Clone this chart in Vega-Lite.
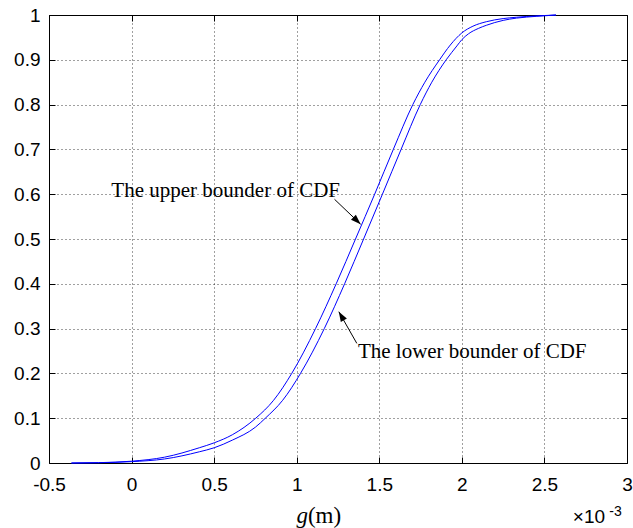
{
  "$schema": "https://vega.github.io/schema/vega-lite/v6.json",
  "width": 578,
  "height": 448,
  "autosize": "none",
  "padding": {"left": 49, "top": 15, "right": 6, "bottom": 65},
  "background": "white",
  "config": {
    "view": {"stroke": "black", "strokeWidth": 1},
    "axis": {
      "labelFont": "Liberation Sans",
      "labelFontSize": 19,
      "labelColor": "black",
      "tickColor": "black",
      "tickSize": -6,
      "domain": false,
      "gridColor": "black",
      "gridOpacity": 0.75,
      "gridDash": [1, 3],
      "gridWidth": 1,
      "title": null
    }
  },
  "datasets": {
    "curves": [
      {"series": "upper", "x": -0.364, "y": 0},
      {"series": "upper", "x": -0.2, "y": 0.0008},
      {"series": "upper", "x": 0.0, "y": 0.004},
      {"series": "upper", "x": 0.2, "y": 0.013},
      {"series": "upper", "x": 0.41, "y": 0.034},
      {"series": "upper", "x": 0.5, "y": 0.045},
      {"series": "upper", "x": 0.61, "y": 0.063},
      {"series": "upper", "x": 0.752, "y": 0.1},
      {"series": "upper", "x": 0.86, "y": 0.14},
      {"series": "upper", "x": 0.97, "y": 0.2},
      {"series": "upper", "x": 1.114, "y": 0.3},
      {"series": "upper", "x": 1.239, "y": 0.4},
      {"series": "upper", "x": 1.356, "y": 0.5},
      {"series": "upper", "x": 1.472, "y": 0.6},
      {"series": "upper", "x": 1.585, "y": 0.7},
      {"series": "upper", "x": 1.703, "y": 0.8},
      {"series": "upper", "x": 1.776, "y": 0.85},
      {"series": "upper", "x": 1.865, "y": 0.9},
      {"series": "upper", "x": 1.93, "y": 0.933},
      {"series": "upper", "x": 2.0, "y": 0.96},
      {"series": "upper", "x": 2.067, "y": 0.975},
      {"series": "upper", "x": 2.148, "y": 0.985},
      {"series": "upper", "x": 2.25, "y": 0.992},
      {"series": "upper", "x": 2.33, "y": 0.995},
      {"series": "upper", "x": 2.45, "y": 0.998},
      {"series": "upper", "x": 2.57, "y": 1.0},
      {"series": "lower", "x": -0.364, "y": 0},
      {"series": "lower", "x": -0.2, "y": 0.0006},
      {"series": "lower", "x": 0.0, "y": 0.003},
      {"series": "lower", "x": 0.2, "y": 0.009},
      {"series": "lower", "x": 0.41, "y": 0.025},
      {"series": "lower", "x": 0.5, "y": 0.034},
      {"series": "lower", "x": 0.61, "y": 0.051},
      {"series": "lower", "x": 0.75, "y": 0.08},
      {"series": "lower", "x": 0.81, "y": 0.1},
      {"series": "lower", "x": 0.915, "y": 0.14},
      {"series": "lower", "x": 1.023, "y": 0.2},
      {"series": "lower", "x": 1.167, "y": 0.3},
      {"series": "lower", "x": 1.29, "y": 0.4},
      {"series": "lower", "x": 1.405, "y": 0.5},
      {"series": "lower", "x": 1.519, "y": 0.6},
      {"series": "lower", "x": 1.632, "y": 0.7},
      {"series": "lower", "x": 1.748, "y": 0.8},
      {"series": "lower", "x": 1.818, "y": 0.85},
      {"series": "lower", "x": 1.905, "y": 0.9},
      {"series": "lower", "x": 1.97, "y": 0.931},
      {"series": "lower", "x": 2.0, "y": 0.945},
      {"series": "lower", "x": 2.04, "y": 0.958},
      {"series": "lower", "x": 2.1, "y": 0.97},
      {"series": "lower", "x": 2.148, "y": 0.977},
      {"series": "lower", "x": 2.25, "y": 0.988},
      {"series": "lower", "x": 2.33, "y": 0.993},
      {"series": "lower", "x": 2.45, "y": 0.997},
      {"series": "lower", "x": 2.57, "y": 1.0}
    ],
    "arrows": [
      {"id": "upper", "x": 1.229, "y": 0.5886, "xtip": 1.387, "ytip": 0.533, "dir": 134},
      {"id": "lower", "x": 1.364, "y": 0.267, "xtip": 1.255, "ytip": 0.3377, "dir": 330}
    ],
    "texts": [
      {"role": "note", "x": -0.1223, "y": 0.5944, "text": "The upper bounder of CDF"},
      {"role": "note", "x": 1.3705, "y": 0.2337, "text": "The lower bounder of CDF"},
      {"role": "titleItalic", "x": 0.999, "y": -0.1339, "text": "g"},
      {"role": "title", "x": 1.068, "y": -0.1339, "text": "(m)"},
      {"role": "exp", "x": 2.672, "y": -0.1339, "text": "×10"},
      {"role": "sup", "x": 2.893, "y": -0.1183, "text": "-3"}
    ]
  },
  "layer": [
    {
      "data": {"name": "curves"},
      "transform": [{"filter": "datum.series === 'upper'"}],
      "mark": {"type": "line", "color": "#0000ff", "strokeWidth": 1, "interpolate": "monotone"},
      "encoding": {
        "x": {"field": "x", "type": "quantitative", "scale": {"domain": [-0.5, 3], "nice": false, "zero": false},
          "axis": {"orient": "bottom", "values": [-0.5, 0, 0.5, 1, 1.5, 2, 2.5, 3], "labelExpr": "'' + datum.value", "labelPadding": 18, "grid": true, "labelFlush": false}},
        "y": {"field": "y", "type": "quantitative", "scale": {"domain": [0, 1], "nice": false, "zero": false},
          "axis": {"orient": "left", "values": [0, 0.1, 0.2, 0.3, 0.4, 0.5, 0.6, 0.7, 0.8, 0.9, 1], "labelExpr": "'' + datum.value", "labelPadding": 15, "grid": true, "labelFlush": false}}
      }
    },
    {
      "data": {"name": "curves"},
      "transform": [{"filter": "datum.series === 'lower'"}],
      "mark": {"type": "line", "color": "#0000ff", "strokeWidth": 1, "interpolate": "monotone"},
      "encoding": {
        "x": {"field": "x", "type": "quantitative", "scale": {"domain": [-0.5, 3], "nice": false, "zero": false},
          "axis": {"orient": "top", "values": [-0.5, 0, 0.5, 1, 1.5, 2, 2.5, 3], "labels": false, "grid": false}},
        "y": {"field": "y", "type": "quantitative", "scale": {"domain": [0, 1], "nice": false, "zero": false},
          "axis": {"orient": "right", "values": [0, 0.1, 0.2, 0.3, 0.4, 0.5, 0.6, 0.7, 0.8, 0.9, 1], "labels": false, "grid": false}}
      }
    },
    {
      "data": {"name": "arrows"},
      "mark": {"type": "rule", "color": "black", "strokeWidth": 1},
      "encoding": {
        "x": {"field": "x", "type": "quantitative", "scale": {"domain": [-0.5, 3], "nice": false, "zero": false}, "axis": null},
        "y": {"field": "y", "type": "quantitative", "scale": {"domain": [0, 1], "nice": false, "zero": false}, "axis": null},
        "x2": {"field": "xtip"},
        "y2": {"field": "ytip"}
      }
    },
    {
      "data": {"name": "arrows"},
      "mark": {"type": "point", "shape": "M0,0L-0.35,1L0.35,1Z", "size": 400, "filled": true, "color": "black", "opacity": 1, "strokeWidth": 0},
      "encoding": {
        "x": {"field": "xtip", "type": "quantitative", "scale": {"domain": [-0.5, 3], "nice": false, "zero": false}, "axis": null},
        "y": {"field": "ytip", "type": "quantitative", "scale": {"domain": [0, 1], "nice": false, "zero": false}, "axis": null},
        "angle": {"field": "dir", "type": "quantitative", "scale": null}
      }
    },
    {
      "data": {"name": "texts"},
      "transform": [{"filter": "datum.role === 'note'"}],
      "mark": {"type": "text", "font": "Liberation Serif", "fontSize": 21, "align": "left", "baseline": "alphabetic", "color": "black"},
      "encoding": {
        "x": {"field": "x", "type": "quantitative", "scale": {"domain": [-0.5, 3], "nice": false, "zero": false}, "axis": null},
        "y": {"field": "y", "type": "quantitative", "scale": {"domain": [0, 1], "nice": false, "zero": false}, "axis": null},
        "text": {"field": "text"}
      }
    },
    {
      "data": {"name": "texts"},
      "transform": [{"filter": "datum.role === 'titleItalic'"}],
      "mark": {"type": "text", "font": "Liberation Serif", "fontSize": 23, "fontStyle": "italic", "align": "left", "baseline": "alphabetic", "color": "black"},
      "encoding": {
        "x": {"field": "x", "type": "quantitative", "scale": {"domain": [-0.5, 3], "nice": false, "zero": false}, "axis": null},
        "y": {"field": "y", "type": "quantitative", "scale": {"domain": [0, 1], "nice": false, "zero": false}, "axis": null},
        "text": {"field": "text"}
      }
    },
    {
      "data": {"name": "texts"},
      "transform": [{"filter": "datum.role === 'title'"}],
      "mark": {"type": "text", "font": "Liberation Serif", "fontSize": 23, "align": "left", "baseline": "alphabetic", "color": "black"},
      "encoding": {
        "x": {"field": "x", "type": "quantitative", "scale": {"domain": [-0.5, 3], "nice": false, "zero": false}, "axis": null},
        "y": {"field": "y", "type": "quantitative", "scale": {"domain": [0, 1], "nice": false, "zero": false}, "axis": null},
        "text": {"field": "text"}
      }
    },
    {
      "data": {"name": "texts"},
      "transform": [{"filter": "datum.role === 'exp'"}],
      "mark": {"type": "text", "font": "Liberation Sans", "fontSize": 19, "align": "left", "baseline": "alphabetic", "color": "black"},
      "encoding": {
        "x": {"field": "x", "type": "quantitative", "scale": {"domain": [-0.5, 3], "nice": false, "zero": false}, "axis": null},
        "y": {"field": "y", "type": "quantitative", "scale": {"domain": [0, 1], "nice": false, "zero": false}, "axis": null},
        "text": {"field": "text"}
      }
    },
    {
      "data": {"name": "texts"},
      "transform": [{"filter": "datum.role === 'sup'"}],
      "mark": {"type": "text", "font": "Liberation Sans", "fontSize": 14, "align": "left", "baseline": "alphabetic", "color": "black"},
      "encoding": {
        "x": {"field": "x", "type": "quantitative", "scale": {"domain": [-0.5, 3], "nice": false, "zero": false}, "axis": null},
        "y": {"field": "y", "type": "quantitative", "scale": {"domain": [0, 1], "nice": false, "zero": false}, "axis": null},
        "text": {"field": "text"}
      }
    }
  ],
  "resolve": {"axis": {"x": "independent", "y": "independent"}}
}
